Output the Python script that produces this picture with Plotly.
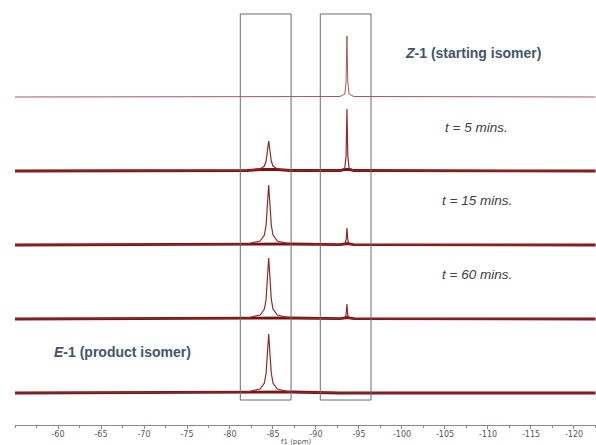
import plotly.graph_objects as go

ppm = [-55.0, -82.0, -83.5, -84.0, -84.2, -84.35, -84.5, -84.65, -84.8, -85.0,
       -85.5, -87.0, -92.8, -93.35, -93.5, -93.6, -93.7, -93.85, -94.4, -122.5]

# Relative intensities for each spectrum (top to bottom)
z1_start = [0, 0, 0, 0, 0, 0, 0, 0, 0, 0, 0, 0, 0.5, 3, 15, 61, 15, 3, 0.5, 0]
t_5min = [0, 0.5, 2, 5, 10, 20, 30, 20, 10, 5, 2, 0.5, 0.5, 3, 15, 62, 15, 3, 0.5, 0]
t_15min = [0, 1, 4, 10, 20, 40, 60, 40, 20, 10, 4, 1, 0.3, 1, 5, 17, 5, 1, 0.3, 0]
t_60min = [0, 1, 4, 10, 20, 41, 61, 41, 20, 10, 4, 1, 0.3, 1, 4, 15, 4, 1, 0.3, 0]
e1_product = [0, 1, 4, 10, 20, 39, 59, 39, 20, 10, 4, 1, 0, 0, 0, 0, 0, 0, 0, 0]

spectra = [z1_start, t_5min, t_15min, t_60min, e1_product]
labels = ["<b><i>Z</i>-1 (starting isomer)</b>", "<i>t = 5 mins.</i>",
          "<i>t = 15 mins.</i>", "<i>t = 60 mins.</i>",
          "<b><i>E</i>-1 (product isomer)</b>"]

# Highlighted regions (ppm)
box_ranges = [(-81.2, -87.1), (-90.5, -96.4)]

tick_vals = list(range(-60, -121, -5))
tick_text = [str(v) for v in tick_vals]

fig = go.Figure()
step = 74
base0 = 32
n = len(spectra)
for i, spec in enumerate(spectra):
    offset = base0 + step * (n - 1 - i)
    if i == 0:
        fig.add_trace(go.Scatter(
            x=ppm, y=[v + offset for v in spec], mode="lines",
            line=dict(color="#a35858", width=1),
            showlegend=False, hoverinfo="skip"))
    else:
        # thick noisy-looking baseline band
        fig.add_trace(go.Scatter(
            x=ppm, y=[min(v, 1.5) + offset for v in spec], mode="lines",
            line=dict(color="#7a1214", width=2.8),
            showlegend=False, hoverinfo="skip"))
        # thin peak trace
        fig.add_trace(go.Scatter(
            x=ppm, y=[v + offset for v in spec], mode="lines",
            line=dict(color="#8e2a2c", width=1.2),
            showlegend=False, hoverinfo="skip"))

for (a, b) in box_ranges:
    fig.add_shape(type="rect", x0=a, x1=b, y0=25, y1=411,
                  line=dict(color="#6b6b6b", width=1), layer="above")

ann_pos = [(0.788, 372), (0.795, 298), (0.795, 225), (0.795, 151), (0.185, 73)]
for lab, (xp, yp) in zip(labels, ann_pos):
    bold = lab.startswith("<b>")
    fig.add_annotation(x=xp, xref="paper", y=yp, yref="y", text=lab,
                       showarrow=False, xanchor="center",
                       font=dict(family="Liberation Sans, Arial", size=14 if bold else 13.5,
                                 color="#44546a" if bold else "#404040"))

fig.add_annotation(x=0.484, xref="paper", y=0, yref="paper", yanchor="top",
                   yshift=-11, text="f1 (ppm)", showarrow=False,
                   font=dict(family="DejaVu Sans", size=7, color="#555"))

fig.update_xaxes(range=[-55, -122.56], tickvals=tick_vals, ticktext=tick_text,
                 ticks="outside", ticklen=3, tickcolor="#888", showgrid=False,
                 zeroline=False, showline=True, linecolor="#8a8a8a", linewidth=1,
                 ticklabelstandoff=-2,
                 tickfont=dict(family="DejaVu Sans", size=8, color="#555"),
                 minor=dict(dtick=2.5, tick0=-60, ticks="outside", ticklen=2,
                            tickcolor="#888", showgrid=False))
fig.update_yaxes(range=[0, 425], visible=False)

fig.update_layout(width=596, height=445, margin=dict(l=15, r=0, t=0, b=20),
                  plot_bgcolor="white", paper_bgcolor="white")

fig.write_html("out.html", config={"displayModeBar": False},
               post_script="document.body.style.margin='0';document.body.style.overflow='hidden';")
